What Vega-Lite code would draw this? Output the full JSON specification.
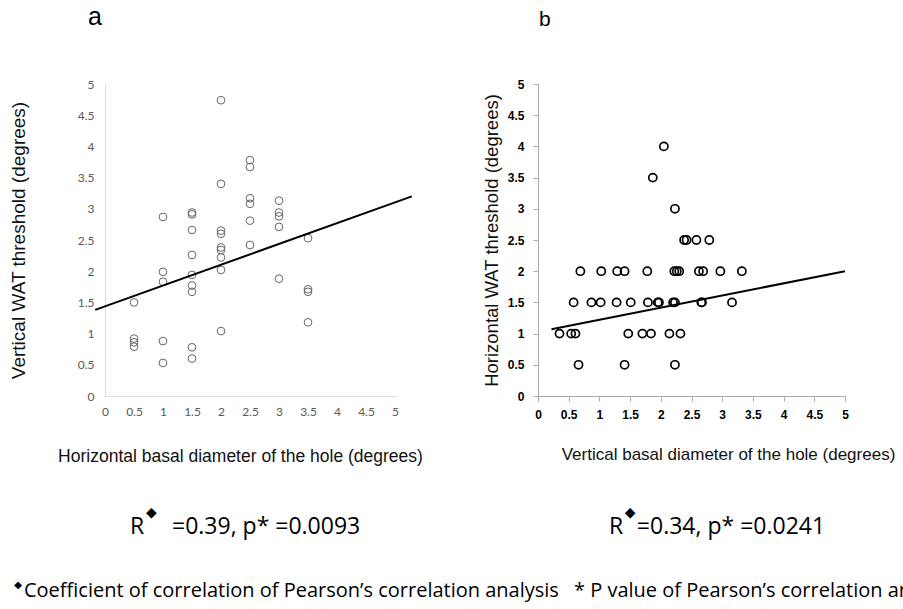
{
  "$schema": "https://vega.github.io/schema/vega-lite/v6.json",
  "background": "white",
  "padding": {"left": 9, "top": 5, "right": 0, "bottom": 10},
  "autosize": {"type": "pad"},
  "spacing": 143,
  "bounds": "flush",
  "config": {"view": {"stroke": null}},
  "datasets": {
    "a_pts": [
      {"x": 0.5, "y": 1.50}, {"x": 0.5, "y": 0.92}, {"x": 0.5, "y": 0.86}, {"x": 0.5, "y": 0.79},
      {"x": 1, "y": 2.87}, {"x": 1, "y": 1.99}, {"x": 1, "y": 1.83}, {"x": 1, "y": 0.88}, {"x": 1, "y": 0.53},
      {"x": 1.5, "y": 2.94}, {"x": 1.5, "y": 2.91}, {"x": 1.5, "y": 2.66}, {"x": 1.5, "y": 2.26}, {"x": 1.5, "y": 1.94}, {"x": 1.5, "y": 1.77}, {"x": 1.5, "y": 1.67}, {"x": 1.5, "y": 0.78}, {"x": 1.5, "y": 0.60},
      {"x": 2, "y": 4.74}, {"x": 2, "y": 3.40}, {"x": 2, "y": 2.65}, {"x": 2, "y": 2.60}, {"x": 2, "y": 2.38}, {"x": 2, "y": 2.34}, {"x": 2, "y": 2.22}, {"x": 2, "y": 2.02}, {"x": 2, "y": 1.04},
      {"x": 2.5, "y": 3.78}, {"x": 2.5, "y": 3.67}, {"x": 2.5, "y": 3.17}, {"x": 2.5, "y": 3.08}, {"x": 2.5, "y": 2.81}, {"x": 2.5, "y": 2.42},
      {"x": 3, "y": 3.13}, {"x": 3, "y": 2.94}, {"x": 3, "y": 2.88}, {"x": 3, "y": 2.71}, {"x": 3, "y": 1.88},
      {"x": 3.5, "y": 2.53}, {"x": 3.5, "y": 1.71}, {"x": 3.5, "y": 1.67}, {"x": 3.5, "y": 1.18}
    ],
    "a_fit": [{"x": -0.17, "y": 1.38}, {"x": 5.29, "y": 3.2}],
    "b_pts": [
      {"x": 2.05, "y": 4}, {"x": 1.87, "y": 3.5}, {"x": 2.23, "y": 3},
      {"x": 2.38, "y": 2.5}, {"x": 2.42, "y": 2.5}, {"x": 2.58, "y": 2.5}, {"x": 2.79, "y": 2.5},
      {"x": 0.69, "y": 2}, {"x": 1.03, "y": 2}, {"x": 1.29, "y": 2}, {"x": 1.41, "y": 2}, {"x": 1.78, "y": 2}, {"x": 2.22, "y": 2}, {"x": 2.26, "y": 2}, {"x": 2.30, "y": 2}, {"x": 2.62, "y": 2}, {"x": 2.69, "y": 2}, {"x": 2.97, "y": 2}, {"x": 3.32, "y": 2},
      {"x": 0.58, "y": 1.5}, {"x": 0.87, "y": 1.5}, {"x": 1.02, "y": 1.5}, {"x": 1.28, "y": 1.5}, {"x": 1.51, "y": 1.5}, {"x": 1.79, "y": 1.5}, {"x": 1.95, "y": 1.5}, {"x": 1.97, "y": 1.5}, {"x": 2.20, "y": 1.5}, {"x": 2.23, "y": 1.5}, {"x": 2.66, "y": 1.5}, {"x": 2.67, "y": 1.5}, {"x": 3.16, "y": 1.5},
      {"x": 0.35, "y": 1}, {"x": 0.54, "y": 1}, {"x": 0.61, "y": 1}, {"x": 1.47, "y": 1}, {"x": 1.70, "y": 1}, {"x": 1.84, "y": 1}, {"x": 2.14, "y": 1}, {"x": 2.32, "y": 1},
      {"x": 0.66, "y": 0.5}, {"x": 1.41, "y": 0.5}, {"x": 2.23, "y": 0.5}
    ],
    "b_fit": [{"x": 0.22, "y": 1.07}, {"x": 5.0, "y": 2.0}],
    "notes": [
      {"panel": "a", "part": "big", "x": 0.43, "y": -2.1, "label": "R"},
      {"panel": "a", "part": "dia", "x": 0.80, "y": -1.87, "label": "◆"},
      {"panel": "a", "part": "big", "x": 1.155, "y": -2.1, "label": "=0.39, p* =0.0093"},
      {"panel": "a", "part": "sdia", "x": -1.50, "y": -3.03, "label": "◆"},
      {"panel": "a", "part": "foot", "x": -1.397, "y": -3.12, "label": "Coefficient of correlation of Pearson’s correlation analysis"},
      {"panel": "b", "part": "big", "x": 1.156, "y": -2.1, "label": "R"},
      {"panel": "b", "part": "dia", "x": 1.50, "y": -1.87, "label": "◆"},
      {"panel": "b", "part": "big", "x": 1.61, "y": -2.1, "label": "=0.34, p* =0.0241"},
      {"panel": "b", "part": "foot", "x": 0.586, "y": -3.12, "label": "* P value of Pearson’s correlation analysis"}
    ]
  },
  "hconcat": [
    {
      "width": 290,
      "height": 312,
      "title": {"text": "a", "anchor": "start", "frame": "group", "font": "Liberation Sans", "fontSize": 25, "fontWeight": "normal", "color": "#000", "dx": -17, "offset": 48},
      "encoding": {
        "x": {"field": "x", "type": "quantitative", "scale": {"domain": [0, 5], "nice": false, "zero": false},
          "axis": {"values": [0, 0.5, 1, 1.5, 2, 2.5, 3, 3.5, 4, 4.5, 5], "format": "~g", "grid": false, "ticks": false, "tickSize": 0, "labelPadding": 10, "labelFlush": false, "labelOverlap": false, "domainColor": "#d9d9d9", "labelColor": "#595959", "labelFont": "Lato", "labelFontSize": 12,
            "title": "Horizontal basal diameter of the hole (degrees)", "titleFont": "Liberation Sans", "titleFontSize": 17.5, "titleFontWeight": "normal", "titleColor": "#111", "titlePadding": 30, "titleX": 135}},
        "y": {"field": "y", "type": "quantitative", "scale": {"domain": [0, 5], "nice": false, "zero": false},
          "axis": {"values": [0, 0.5, 1, 1.5, 2, 2.5, 3, 3.5, 4, 4.5, 5], "format": "~g", "grid": false, "ticks": false, "tickSize": 0, "labelPadding": 11, "labelFlush": false, "labelOverlap": false, "domainColor": "#d9d9d9", "labelColor": "#595959", "labelFont": "Lato", "labelFontSize": 12,
            "title": "Vertical WAT threshold (degrees)", "titleFont": "Liberation Sans", "titleFontSize": 19, "titleFontWeight": "normal", "titleColor": "#111", "titlePadding": 49}}
      },
      "layer": [
        {
          "data": {"name": "a_pts"},
          "mark": {"type": "point", "shape": "circle", "filled": false, "stroke": "#666", "strokeWidth": 1, "size": 60, "opacity": 1}
        },
        {
          "data": {"name": "a_fit"},
          "mark": {"type": "line", "color": "#000", "strokeWidth": 2}
        },
        {
          "data": {"name": "notes"},
          "transform": [{"filter": "datum.panel === 'a' && datum.part === 'big'"}],
          "mark": {"type": "text", "align": "left", "baseline": "middle", "font": "Open Sans", "fontSize": 23, "color": "#000"},
          "encoding": {"text": {"field": "label"}}
        },
        {
          "data": {"name": "notes"},
          "transform": [{"filter": "datum.panel === 'a' && datum.part === 'dia'"}],
          "mark": {"type": "text", "align": "center", "baseline": "middle", "font": "DejaVu Sans", "fontSize": 14, "color": "#000"},
          "encoding": {"text": {"field": "label"}}
        },
        {
          "data": {"name": "notes"},
          "transform": [{"filter": "datum.panel === 'a' && datum.part === 'sdia'"}],
          "mark": {"type": "text", "align": "center", "baseline": "middle", "font": "DejaVu Sans", "fontSize": 10, "color": "#000"},
          "encoding": {"text": {"field": "label"}}
        },
        {
          "data": {"name": "notes"},
          "transform": [{"filter": "datum.panel === 'a' && datum.part === 'foot'"}],
          "mark": {"type": "text", "align": "left", "baseline": "middle", "font": "Open Sans", "fontSize": 20, "color": "#000"},
          "encoding": {"text": {"field": "label"}}
        }
      ]
    },
    {
      "width": 307,
      "height": 312,
      "title": {"text": "b", "anchor": "start", "frame": "group", "font": "Liberation Sans", "fontSize": 21, "fontWeight": "normal", "color": "#000", "dx": 1, "offset": 48},
      "encoding": {
        "x": {"field": "x", "type": "quantitative", "scale": {"domain": [0, 5], "nice": false, "zero": false},
          "axis": {"values": [0, 0.5, 1, 1.5, 2, 2.5, 3, 3.5, 4, 4.5, 5], "format": "~g", "grid": false, "ticks": true, "tickSize": 5, "tickColor": "#aaa", "labelPadding": 8, "labelFlush": false, "labelOverlap": false, "domainColor": "#aaa", "labelColor": "#000", "labelFont": "Liberation Sans", "labelFontWeight": "bold", "labelFontSize": 12,
            "title": "Vertical basal diameter of the hole (degrees)", "titleFont": "Liberation Sans", "titleFontSize": 17, "titleFontWeight": "normal", "titleColor": "#111", "titlePadding": 26, "titleX": 190}},
        "y": {"field": "y", "type": "quantitative", "scale": {"domain": [0, 5], "nice": false, "zero": false},
          "axis": {"values": [0, 0.5, 1, 1.5, 2, 2.5, 3, 3.5, 4, 4.5, 5], "format": "~g", "grid": false, "ticks": true, "tickSize": 5, "tickColor": "#aaa", "labelPadding": 9, "labelFlush": false, "labelOverlap": false, "domainColor": "#aaa", "labelColor": "#000", "labelFont": "Liberation Sans", "labelFontWeight": "bold", "labelFontSize": 12,
            "title": "Horizontal WAT threshold (degrees)", "titleFont": "Liberation Sans", "titleFontSize": 18.5, "titleFontWeight": "normal", "titleColor": "#111", "titlePadding": 6}}
      },
      "layer": [
        {
          "data": {"name": "b_pts"},
          "mark": {"type": "point", "shape": "circle", "filled": false, "stroke": "#000", "strokeWidth": 1.7, "size": 66, "opacity": 1}
        },
        {
          "data": {"name": "b_fit"},
          "mark": {"type": "line", "color": "#000", "strokeWidth": 2}
        },
        {
          "data": {"name": "notes"},
          "transform": [{"filter": "datum.panel === 'b' && datum.part === 'big'"}],
          "mark": {"type": "text", "align": "left", "baseline": "middle", "font": "Open Sans", "fontSize": 23, "color": "#000"},
          "encoding": {"text": {"field": "label"}}
        },
        {
          "data": {"name": "notes"},
          "transform": [{"filter": "datum.panel === 'b' && datum.part === 'dia'"}],
          "mark": {"type": "text", "align": "center", "baseline": "middle", "font": "DejaVu Sans", "fontSize": 14, "color": "#000"},
          "encoding": {"text": {"field": "label"}}
        },
        {
          "data": {"name": "notes"},
          "transform": [{"filter": "datum.panel === 'b' && datum.part === 'foot'"}],
          "mark": {"type": "text", "align": "left", "baseline": "middle", "font": "Open Sans", "fontSize": 20, "color": "#000"},
          "encoding": {"text": {"field": "label"}}
        }
      ]
    }
  ]
}
